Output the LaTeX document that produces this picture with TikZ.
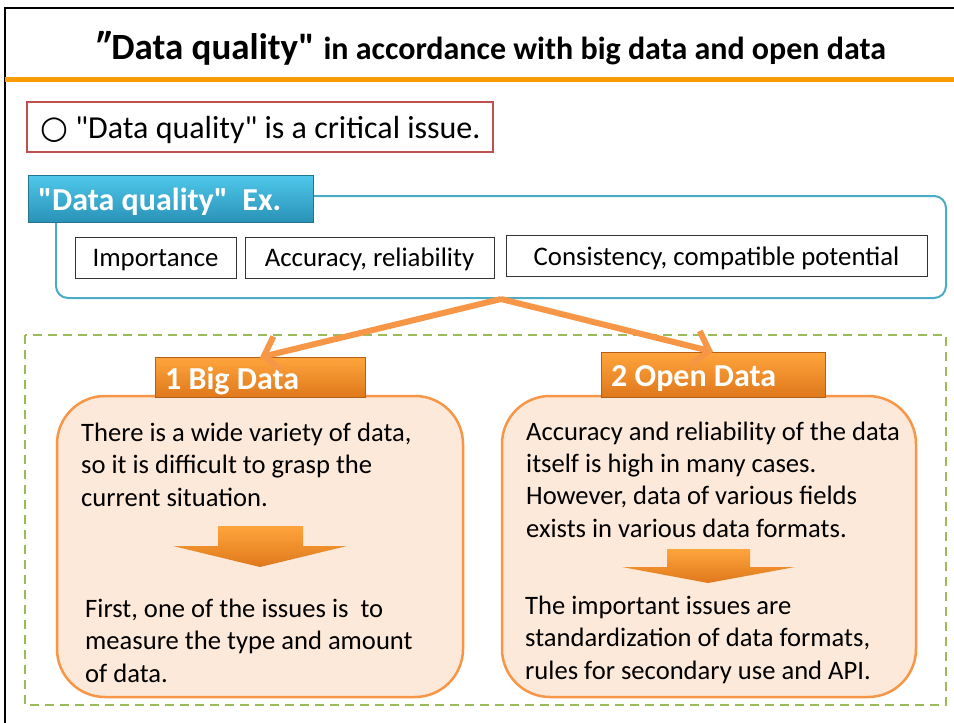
\documentclass[tikz,border=0pt]{standalone}
\usepackage{fontspec}
\setmainfont{Carlito}[Ligatures=TeXOff]
\newfontfamily\symfont{DejaVu Sans}
\usetikzlibrary{arrows.meta}
\definecolor{orline}{HTML}{F79B00}
\definecolor{redb}{HTML}{C0504D}
\definecolor{blueb}{HTML}{4BACC6}
\definecolor{bluetop}{HTML}{4FC8EA}
\definecolor{bluebot}{HTML}{2A92B8}
\definecolor{greend}{HTML}{9BBB59}
\definecolor{peach}{HTML}{FDE9D9}
\definecolor{orb}{HTML}{F79646}
\definecolor{ortop}{HTML}{FFA53C}
\definecolor{orbot}{HTML}{DF781C}
\tikzset{
  txt/.style={inner sep=0pt, anchor=base west, align=left, font=\fontsize{26.6}{32.3}\selectfont},
  itembox/.style={draw=black!80, line width=0.8pt, fill=white, minimum height=41pt, inner sep=0pt, text height=23pt, text depth=5pt, font=\fontsize{26.8}{32}\selectfont},
  peachbox/.style={draw=orb, line width=2.5pt, fill=peach, rounded corners=48pt, minimum height=301pt, inner sep=0pt},
  orlabel/.style={top color=ortop, bottom color=orbot, draw=orbot!80!black, line width=0.4pt, inner sep=0pt},
  labeltxt/.style={inner sep=0pt, anchor=base west, text=white, font=\bfseries\fontsize{32}{38}\selectfont},
  bigarrow/.style={draw=orb, line width=6pt, -{Straight Barb[length=14pt,width=34pt,line width=6pt]}},
  downarrow/.style={top color=ortop, bottom color=orbot, draw=none}
}
\begin{document}
\begin{tikzpicture}[x=1pt,y=-1pt]
\useasboundingbox (0,0) rectangle (954,723);
\fill[white] (0,0) rectangle (954,723);
% frame
\draw[line width=2pt] (5,723) -- (5,8) -- (954,8);
% title
\node[inner sep=0pt, anchor=base west] (title) at (96,59) {\bfseries{\fontsize{37}{44}\selectfont ″Data quality"}\hspace{7pt} {\fontsize{32}{38}\selectfont in accordance with big data and open data}};
\draw[orline, line width=5pt] (5,79) -- (954,79);
% critical issue
\node[draw=redb, line width=1.5pt, minimum width=466pt, minimum height=50pt, inner sep=0pt] (crit) at (260,127) {};
\node[inner sep=0pt, anchor=base west, font=\fontsize{32}{38}\selectfont] (crittxt) at (40,138) {{\symfont\bfseries ○} "Data quality" is a critical issue.};
% blue box
\node[draw=blueb, line width=2pt, rounded corners=12pt, minimum width=890pt, minimum height=102pt, inner sep=0pt] (exbox) at (501,247) {};
\node[top color=bluetop, bottom color=bluebot, draw=bluebot!80!black, line width=0.4pt, minimum width=285pt, minimum height=47pt, inner sep=0pt] (exlabel) at (170.5,198.5) {};
\node[labeltxt] (exlabeltxt) at (38,210) {"Data quality"\ \ Ex.};
\node[itembox, minimum width=161pt] (imp) at (155.5,257.5) {Importance};
\node[itembox, minimum width=249pt] (acc) at (369.5,257.5) {Accuracy, reliability};
\node[itembox, minimum width=421pt] (con) at (716.5,256) {Consistency, compatible potential};
% green dashed
\draw[greend, line width=2.2pt, dash pattern=on 9pt off 6pt] (25,335) rectangle (946,705);
% peach boxes
\node[peachbox, minimum width=406pt] (left) at (260,546.5) {};
\node[peachbox, minimum width=414pt] (right) at (709,546.5) {};
% labels
\node[orlabel, minimum width=210pt, minimum height=40pt] (bd) at (260,377.5) {};
\node[labeltxt] (bdtxt) at (165,389) {1 Big Data};
\node[orlabel, minimum width=224pt, minimum height=45pt] (od) at (713,374.5) {};
\node[labeltxt] (odtxt) at (611,386) {2 Open Data};
% arrows
\draw[bigarrow] (exbox.south) -- (bd.north);
\draw[bigarrow] (exbox.south) -- (od.north);
% left text
\node[txt] (l1) at (81,506) {There is a wide variety of data,\\so it is difficult to grasp the\\current situation.};
\shade[downarrow] (218,526) -- (303,526) -- (303,546) -- (347,546) -- (260,567) -- (173,546) -- (218,546) -- cycle;
\node[txt] (l2) at (85,682) {First, one of the issues is\ \ to\\measure the type and amount\\of data.};
% right text
\node[txt] (r1) at (526,537) {Accuracy and reliability of the data\\itself is high in many cases.\\However, data of various fields\\exists in various data formats.};
\shade[downarrow] (667,549) -- (750,549) -- (750,567) -- (795,567) -- (708,583) -- (622,567) -- (667,567) -- cycle;
\node[txt] (r2) at (525,679) {The important issues are\\standardization of data formats,\\rules for secondary use and API.};
\end{tikzpicture}
\end{document}
